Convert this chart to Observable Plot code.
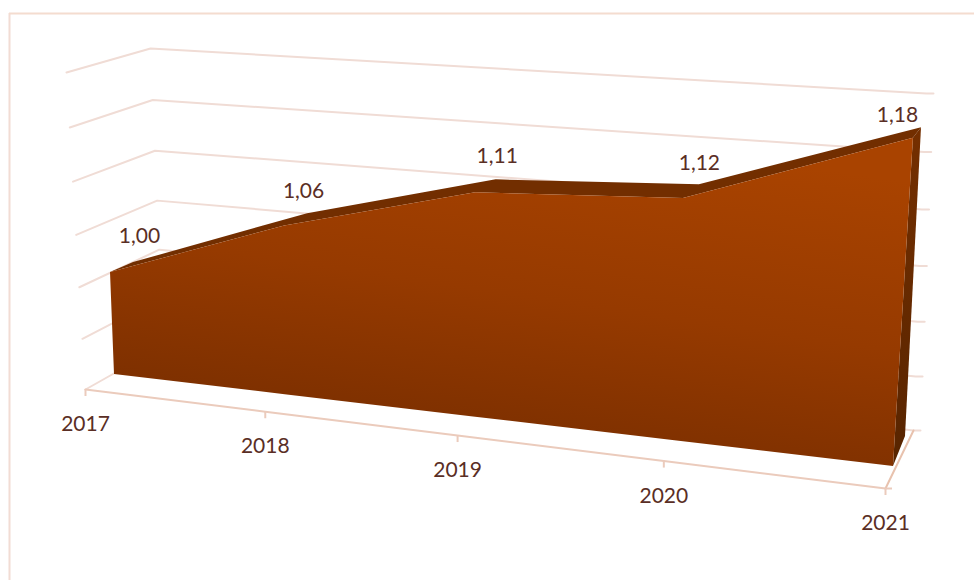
<!DOCTYPE html>
<html>
<head>
<meta charset="utf-8">
<script src="https://cdn.jsdelivr.net/npm/d3@7"></script>
<script src="https://cdn.jsdelivr.net/npm/@observablehq/plot@0.6"></script>
<style>html,body{margin:0;padding:0;background:#fff}svg{display:block}</style>
</head>
<body>
<div id="chart"></div>
<script>
// Data
const years = ["2017", "2018", "2019", "2020", "2021"];
const values = [1.00, 1.06, 1.105, 1.115, 1.18];
const valueLabels = ["1,00", "1,06", "1,11", "1,12", "1,18"];
const gridLevels = [0.90, 0.95, 1.00, 1.05, 1.10, 1.15, 1.20];

// Excel-style 3D camera: each plane is described by its four projected corners
const planes = {
  floorFront: {bl: [85, 389], br: [885, 488], tl: [66, 72], tr: [860, 150], across: 1.15},
  wallBack: {bl: [163, 345], br: [913, 430], tl: [150, 48], tr: [926, 93], across: 1.15},
  areaFront: {bl: [114, 374], br: [893, 466], tl: [101.6, 58], tr: [914.4, 113], across: 1.17},
  areaBack: {bl: [136, 365], br: [905, 436], tl: [126.7, 46], tr: [922.2, 104], across: 1.15}
};
const lerp = (a, b, t) => a + (b - a) * t;
const depthUp = 1.05;
function project(plane, i, v) {
  const p = planes[plane];
  const u = i / (years.length - 1);
  const t = u / (u + (1 - u) * p.across);
  const l = (v - 0.9) / 0.3;
  const s = l / (l + (1 - l) * depthUp);
  const bx = lerp(p.bl[0], p.br[0], t), by = lerp(p.bl[1], p.br[1], t);
  const tx = lerp(p.tl[0], p.tr[0], t), ty = lerp(p.tl[1], p.tr[1], t);
  return [lerp(bx, tx, s), lerp(by, ty, s)];
}
const last = years.length - 1;

// Gridlines: front end -> back-left corner -> back-right corner -> outer tick
const gridRows = gridLevels.flatMap((v) => {
  const a = project("floorFront", 0, v), b = project("wallBack", 0, v), c = project("wallBack", last, v);
  return [a, b, c, [c[0] + 7, c[1]]].map((p) => ({v, x: p[0], y: p[1]}));
});

// Surfaces
const rows = years.map((year, i) => {
  const f = project("areaFront", i, values[i]), k = project("areaBack", i, values[i]);
  const b = project("areaFront", i, 0.9);
  return {year, i, fx: f[0], fy: f[1], kx: k[0], ky: k[1], bx: b[0], by: b[1]};
});
const sideRows = [0.9, values[last]].map((v) => {
  const f = project("areaFront", last, v), k = project("areaBack", last, v);
  return {fx: f[0], fy: f[1], kx: k[0], ky: k[1]};
});

// X axis
const xAxisRows = years.map((year, i) => {
  const p = project("floorFront", i, 0.9);
  return {year, x: p[0], y: p[1]};
});
const floorEdge = [project("floorFront", last, 0.9), project("wallBack", last, 0.9)];

// Label placement relative to the back edge of the ribbon
const labelNudge = [[6, -26], [-4, -22], [1, -24], [0, -21], [-24, -12]];
const labelRows = rows.map((r, i) => ({t: valueLabels[i], x: r.kx + labelNudge[i][0], y: r.ky + labelNudge[i][1]}));

const textColor = "#5a2e25", gridColor = "#f0dcd5", axisColor = "#ebcbbc";
const font = "Lato, Carlito, 'Open Sans', sans-serif";

function gradient() {
  const defs = d3.create("svg:defs");
  const lg = defs.append("linearGradient").attr("id", "faceFill")
    .attr("gradientUnits", "userSpaceOnUse")
    .attr("x1", 560).attr("y1", 130).attr("x2", 510).attr("y2", 465);
  [[0, "#a94300"], [0.5, "#963a00"], [1, "#792e00"]].forEach(([o, c]) =>
    lg.append("stop").attr("offset", o).attr("stop-color", c));
  const sg = defs.append("linearGradient").attr("id", "sideFill")
    .attr("gradientUnits", "userSpaceOnUse")
    .attr("x1", 915).attr("y1", 130).attr("x2", 900).attr("y2", 465);
  [[0, "#742f00"], [1, "#572400"]].forEach(([o, c]) =>
    sg.append("stop").attr("offset", o).attr("stop-color", c));
  return defs.node();
}

const chart = Plot.plot({
  width: 974,
  height: 580,
  margin: 0,
  x: {domain: [0, 974], range: [0, 974], axis: null},
  y: {domain: [0, 580], range: [0, 580], axis: null},
  style: {background: "#fff", fontFamily: font},
  marks: [
    gradient,
    Plot.ruleX([9], {y1: 13, y2: 580, stroke: "#f2dcd4", strokeWidth: 2}),
    Plot.ruleY([13], {x1: 9, x2: 974, stroke: "#f4dccf", strokeWidth: 2}),
    Plot.line(gridRows, {x: "x", y: "y", z: "v", stroke: gridColor, strokeWidth: 2, curve: "linear"}),
    // x axis, floor edge, ticks
    Plot.line(xAxisRows, {x: "x", y: "y", stroke: axisColor, strokeWidth: 2}),
    Plot.line(floorEdge, {x: (d) => d[0], y: (d) => d[1], stroke: "#e8c2ae", strokeWidth: 2}),
    Plot.ruleX(xAxisRows, {x: "x", y1: "y", y2: (d) => d.y + 7, stroke: axisColor, strokeWidth: 2}),
    Plot.ruleY(xAxisRows.slice(-1), {y: "y", x1: "x", x2: (d) => d.x + 7, stroke: axisColor, strokeWidth: 2}),
    // side, ribbon, and front face of the area
    Plot.area(sideRows, {x1: "fx", y1: "fy", x2: "kx", y2: "ky", fill: "url(#sideFill)"}),
    Plot.area(rows, {x1: "fx", y1: "fy", x2: "kx", y2: "ky", fill: "#722e00"}),
    Plot.area(rows, {x1: "fx", y1: "fy", x2: "bx", y2: "by", fill: "url(#faceFill)"}),
    // text
    Plot.text(xAxisRows, {x: "x", y: "y", dy: 35, text: "year", fill: textColor, fontSize: 21}),
    Plot.text(labelRows, {x: "x", y: "y", text: "t", fill: textColor, fontSize: 21})
  ]
});
document.getElementById("chart").append(chart);
</script>
</body>
</html>
